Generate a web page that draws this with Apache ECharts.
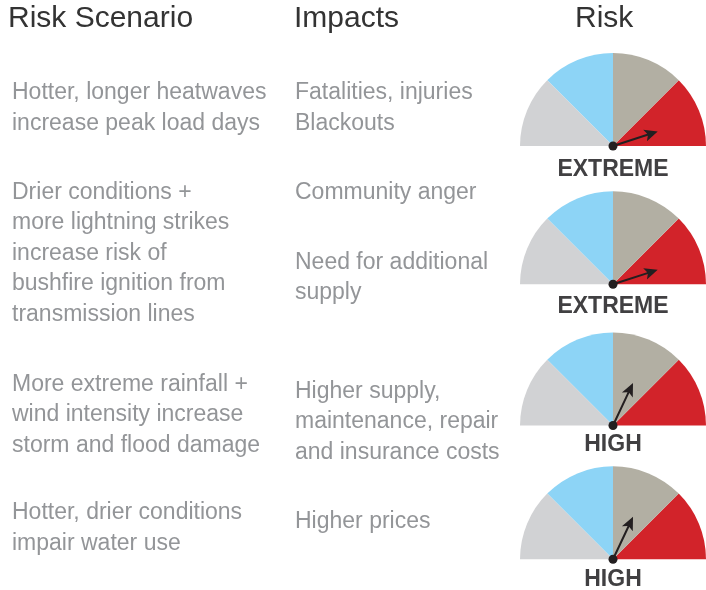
<!DOCTYPE html>
<html>
<head>
<meta charset="utf-8">
<script src="https://cdn.jsdelivr.net/npm/echarts@6/dist/echarts.min.js"></script>
<style>
html,body{margin:0;padding:0;background:#fff;}
#main{width:706px;height:590px;}
</style>
</head>
<body>
<div id="main"></div>
<script>
// ---- data ----
var headers = ['Risk Scenario', 'Impacts', 'Risk'];
var scenarios = [
  ['Hotter, longer heatwaves', 'increase peak load days'],
  ['Drier conditions +', 'more lightning strikes', 'increase risk of', 'bushfire ignition from', 'transmission lines'],
  ['More extreme rainfall +', 'wind intensity increase', 'storm and flood damage'],
  ['Hotter, drier conditions', 'impair water use']
];
var impacts = [
  ['Fatalities, injuries', 'Blackouts'],
  ['Community anger'],
  ['Need for additional', 'supply'],
  ['Higher supply,', 'maintenance, repair', 'and insurance costs'],
  ['Higher prices']
];
var riskLevels = ['EXTREME', 'EXTREME', 'HIGH', 'HIGH'];
var riskValues = [3.6, 3.6, 2.56, 2.56]; // on a 0-4 scale (4 bands)
var bandColors = ['#d1d2d4', '#8dd4f6', '#b2afa3', '#d2232a'];

// ---- layout ----
var scenarioBaselines = [101, 200.5, 392.5, 521];
var impactBaselines = [101, 200.5, 270.5, 399.5, 530];
var gaugeCentersY = [146, 284.3, 425.5, 559.3];
var labelOffsets = [23.5, 22, 19.5, 20];
var LH = 30.5, FS = 23;
var FONT = '"Liberation Sans", Arial, Helvetica, sans-serif';

var chart = echarts.init(document.getElementById('main'), null, {renderer: 'canvas'});

var graphics = [];
var headerX = [8, 294, 575];
headers.forEach(function (h, i) {
  graphics.push({
    type: 'text', left: headerX[i], top: 29 - 10.4 - 15,
    style: {text: h, fontSize: 30, fontFamily: FONT, fill: '#333333', lineHeight: 30}
  });
});
function block(lines, x, baseline) {
  graphics.push({
    type: 'text', left: x, top: baseline - 8 - LH / 2,
    style: {text: lines.join('\n'), fontSize: FS, fontFamily: FONT, fill: '#939598', lineHeight: LH}
  });
}
scenarios.forEach(function (s, i) { block(s, 12, scenarioBaselines[i]); });
impacts.forEach(function (s, i) { block(s, 295, impactBaselines[i]); });

var series = riskValues.map(function (v, i) {
  return {
    type: 'gauge',
    center: [613, gaugeCentersY[i]],
    radius: 93,
    startAngle: 180,
    endAngle: 0,
    min: 0,
    max: 4,
    splitNumber: 4,
    axisLine: {
      lineStyle: {
        width: 93,
        color: [[0.25, bandColors[0]], [0.5, bandColors[1]], [0.75, bandColors[2]], [1, bandColors[3]]]
      }
    },
    axisTick: {show: false},
    splitLine: {show: false},
    axisLabel: {show: false},
    pointer: {
      icon: 'path://M6,0 L12,13 L7,10.5 L7,46 L5,46 L5,10.5 L0,13 Z',
      length: 47,
      width: 12,
      offsetCenter: [0, 0],
      itemStyle: {color: '#231f20'}
    },
    anchor: {show: true, showAbove: true, size: 9, itemStyle: {color: '#231f20'}},
    title: {show: false},
    detail: {
      show: true,
      offsetCenter: [0, labelOffsets[i]],
      fontSize: 23,
      fontWeight: 'bold',
      fontFamily: FONT,
      color: '#414042',
      formatter: function () { return riskLevels[i]; }
    },
    data: [{value: v, name: riskLevels[i]}]
  };
});

chart.setOption({
  animation: false,
  backgroundColor: '#ffffff',
  graphic: graphics,
  series: series
});
</script>
</body>
</html>
